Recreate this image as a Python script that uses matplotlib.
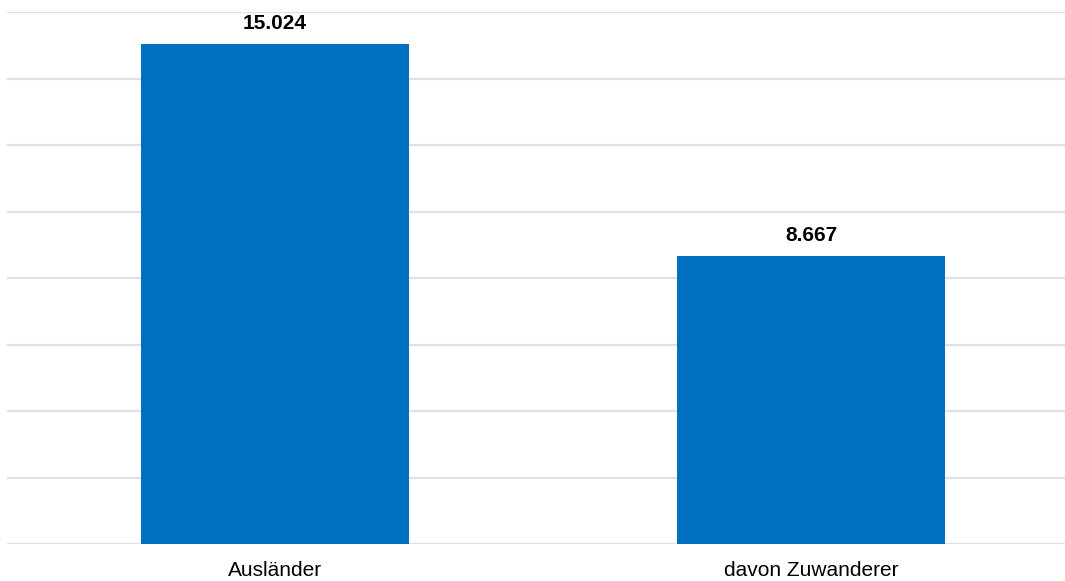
import numpy as np
import matplotlib
matplotlib.use("Agg")
import matplotlib.pyplot as plt

categories = ["Ausländer", "davon Zuwanderer"]
values = [15024, 8667]
value_labels = ["15.024", "8.667"]

plt.rc('font', family=['Liberation Sans', 'DejaVu Sans'])

fig = plt.figure(figsize=(10.65, 5.81), dpi=100)
ax = fig.add_axes([7/1065, 37/581, 1072/1065, 532/581])

x = np.arange(len(categories))
bars = ax.bar(x, values, width=0.5, color='#0070C0', zorder=3)

ax.set_xlim(-0.5, 1.5)
ax.set_ylim(0, 16000)
ax.set_yticks(np.arange(0, 16001, 2000))
ax.yaxis.grid(True, color='#DEE2E8', linewidth=1.6, zorder=0)
ax.set_axisbelow(True)

ax.set_xticks(x)
ax.set_xticklabels(categories, fontsize=15)
ax.tick_params(axis='x', length=0, pad=12)
ax.tick_params(axis='y', length=0, labelleft=False)
for s in ax.spines.values():
    s.set_visible(False)

for xi, v, lab in zip(x, values, value_labels):
    ax.annotate(lab, (xi, v), xytext=(0, 8), textcoords='offset points',
                ha='center', va='bottom', fontsize=15, fontweight='bold')

fig.savefig('out.png', dpi=100)
